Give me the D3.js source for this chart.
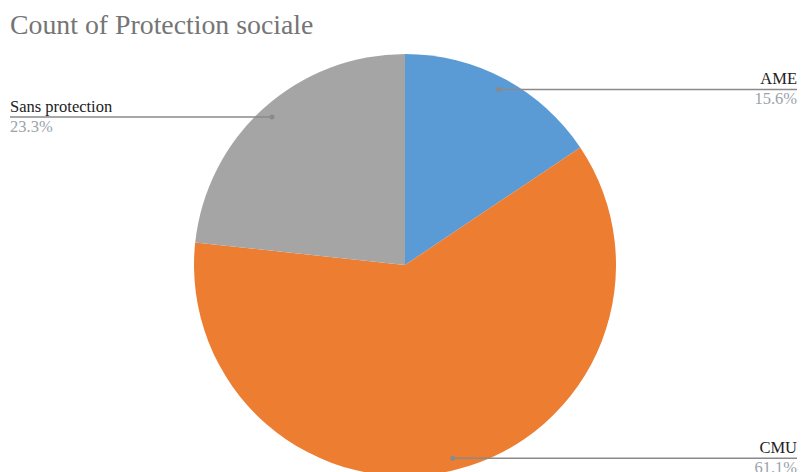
<!DOCTYPE html>
<html><head><meta charset="utf-8">
<script src="https://cdn.jsdelivr.net/npm/d3@7"></script>
<style>body{margin:0;background:#fff}</style>
</head><body>
<svg id="c" width="801" height="472"></svg>
<script>
const categories = ["AME", "CMU", "Sans protection"];
const percents = [15.6, 61.1, 23.3];
const colors = ["#5B9BD5", "#ED7D31", "#A5A5A5"];
const title = "Count of Protection sociale";

const W = 801, H = 472;
const svg = d3.select("#c");
const font = "'Liberation Serif', 'Times New Roman', serif";
svg.append("text").attr("x", 10).attr("y", 34).text(title)
  .attr("font-family", font).attr("font-size", 27.8).attr("fill", "#757575");

const cx = 405, cy = 265, r = 211;
const data = categories.map((c, i) => ({name: c, value: percents[i], color: colors[i]}));
const pie = d3.pie().value(d => d.value).sort(null);
const arcs = pie(data);
const arc = d3.arc().innerRadius(0).outerRadius(r);
const g = svg.append("g").attr("transform", `translate(${cx},${cy})`);
g.selectAll("path").data(arcs).join("path").attr("d", arc).attr("fill", d => d.data.color);

const dotR = 199;
arcs.forEach(a => {
  const mid = (a.startAngle + a.endAngle) / 2;
  const x = cx + Math.sin(mid) * dotR, y = cy - Math.cos(mid) * dotR;
  const right = Math.sin(mid) > 0;
  const x2 = right ? 797 : 10;
  svg.append("line").attr("x1", x).attr("y1", y).attr("x2", x2).attr("y2", y)
    .attr("stroke", "#8a8a8a").attr("stroke-width", 1.5);
  svg.append("circle").attr("cx", x).attr("cy", y).attr("r", 2.5).attr("fill", "#8a8a8a");
  const anchor = right ? "end" : "start";
  svg.append("text").attr("x", x2).attr("y", y - 5).attr("text-anchor", anchor)
    .attr("font-family", font).attr("font-size", 16.5).attr("fill", "#222").text(a.data.name);
  svg.append("text").attr("x", x2).attr("y", y + 15).attr("text-anchor", anchor)
    .attr("font-family", font).attr("font-size", 16.5).attr("fill", "#9aa3aa")
    .text(d3.format(".1f")(a.data.value) + "%");
});
</script>
</body></html>
